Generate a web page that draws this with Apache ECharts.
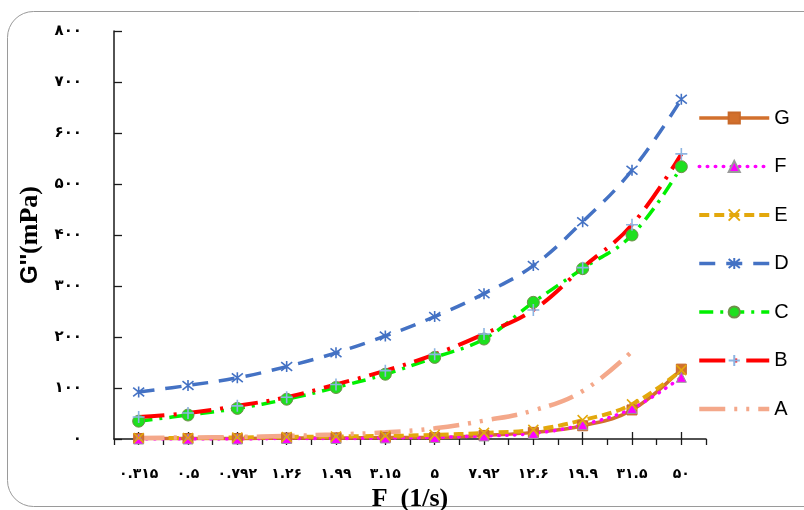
<!DOCTYPE html>
<html>
<head>
<meta charset="utf-8">
<script src="https://cdn.jsdelivr.net/npm/echarts@6/dist/echarts.min.js"></script>
<style>
  html, body { margin: 0; padding: 0; background: #ffffff; }
  #chart { width: 804px; height: 510px; }
</style>
</head>
<body>
<div id="chart"></div>
<script>
// Frequency categories (1/s), written with Persian digits
const categories = ['۰.۳۱۵', '۰.۵', '۰.۷۹۲', '۱.۲۶', '۱.۹۹', '۳.۱۵', '۵', '۷.۹۲', '۱۲.۶', '۱۹.۹', '۳۱.۵', '۵۰'];

// Loss modulus G'' (mPa) for each sample
const seriesG = [1, 1, 1, 2, 2, 3, 3, 7, 13, 26, 57, 137];
const seriesF = [0, 0, 0, 1, 1, 2, 3, 6, 11, 28, 60, 121];
const seriesE = [2, 2, 3, 4, 5, 6, 8, 12, 18, 37, 68, 135];
const seriesD = [92, 105, 120, 142, 169, 202, 240, 285, 340, 426, 527, 666];
const seriesC = [35, 47, 60, 78, 101, 127, 160, 196, 268, 334, 400, 534];
const seriesB = [43, 51, 65, 82, 107, 134, 166, 206, 253, 336, 420, 559];
const seriesA = [2, 3, 4, 6, 9, 13, 21, 36, 56, 94, 172, '-'];

const yMin = 0, yMax = 800, yStep = 100;

const persianDigits = '۰۱۲۳۴۵۶۷۸۹';
const toPersian = v => String(v).replace(/\d/g, d => persianDigits[d]);

const SYM_PLUS = 'path://M5,0L5,10M0,5L10,5';
const SYM_X = 'path://M0,0L10,10M10,0L0,10';
const SYM_STAR = 'path://M1,1L9,9M9,1L1,9M5,0L5,10';

const labelFont = { fontFamily: 'DejaVu Sans', fontWeight: 'bold', fontSize: 15, color: '#000' };

// Line styles shared by the series and their legend icons
const styles = {
  G: { color: '#D2702D', width: 3.5, type: 'solid' },
  F: { color: '#FF00FF', width: 3.5, type: [0.5, 7.5], cap: 'round' },
  E: { color: '#E3A80C', width: 4, type: [10, 5] },
  D: { color: '#4472C4', width: 3.5, type: [16, 11] },
  C: { color: '#00F000', width: 3.5, type: [14, 7, 3, 7] },
  B: { color: '#FF0000', width: 4, type: [26, 9, 3, 9] },
  A: { color: '#F4A88A', width: 4.5, type: [26, 9, 3, 9, 3, 9] }
};

function catAxis(extra) {
  return Object.assign({
    type: 'category',
    data: categories,
    boundaryGap: true,
    position: 'bottom',
    axisLine: { show: false },
    axisLabel: { show: false },
    splitLine: { show: false }
  }, extra);
}

const chart = echarts.init(document.getElementById('chart'), null, { renderer: 'canvas' });

chart.setOption({
  animation: false,
  backgroundColor: '#ffffff',
  graphic: [{
    type: 'rect',
    shape: { x: 7.5, y: 11.5, width: 830, height: 495, r: 26 },
    style: { fill: 'none', stroke: '#9a9a9a', lineWidth: 1 },
    z: -1, silent: true
  }],
  grid: { left: 114, right: 98, top: 31, bottom: 71, containLabel: false, outerBoundsMode: 'none' },
  xAxis: [
    catAxis({
      axisLine: { show: true, lineStyle: { color: '#1a1a1a', width: 1.5 } },
      axisTick: { show: true, alignWithLabel: false, length: 6, lineStyle: { color: '#1a1a1a', width: 1.3 } },
      axisLabel: Object.assign({ show: true, margin: 28, interval: 0 }, labelFont, { fontSize: 14 }),
      name: 'F  (1/s)',
      nameLocation: 'middle',
      nameGap: 45,
      nameTextStyle: { fontFamily: 'Liberation Serif', fontWeight: 'bold', fontSize: 26, color: '#000' }
    }),
    catAxis({ axisTick: { show: true, alignWithLabel: true, inside: true, length: 7, lineStyle: { color: '#1a1a1a', width: 1.3 } } }),
    catAxis({ axisTick: { show: true, alignWithLabel: true, length: 6, lineStyle: { color: '#1a1a1a', width: 1.3 } } })
  ],
  yAxis: {
    type: 'value',
    min: yMin, max: yMax, interval: yStep,
    axisLine: { show: true, lineStyle: { color: '#1a1a1a', width: 1.5 } },
    axisTick: { show: true, inside: true, length: 8, lineStyle: { color: '#1a1a1a', width: 1.3 } },
    splitLine: { show: false },
    axisLabel: Object.assign({ margin: 32, formatter: v => toPersian(v) }, labelFont),
    name: "{g|G''}{p|(mPa)}",
    nameLocation: 'middle',
    nameRotate: 90,
    nameGap: 67,
    nameTextStyle: {
      rich: {
        g: { fontFamily: 'Liberation Sans', fontWeight: 'bold', fontSize: 24, color: '#000' },
        p: { fontFamily: 'Liberation Serif', fontWeight: 'bold', fontSize: 26, color: '#000' }
      }
    }
  },
  legend: {
    orient: 'vertical',
    left: 692,
    top: 103,
    itemWidth: 70,
    itemHeight: 14,
    itemGap: 28.5,
    textStyle: { fontFamily: 'Liberation Sans', fontSize: 20, color: '#000', lineHeight: 20 },
    data: ['G', 'F', 'E', 'D', 'C', 'B', 'A'].map(k => {
      const item = { name: k, lineStyle: { width: styles[k].width, type: styles[k].type, color: styles[k].color } };
      if (k === 'A') item.itemStyle = { opacity: 0 };
      return item;
    })
  },
  series: [
    {
      name: 'G', type: 'line', data: seriesG, smooth: 0.4,
      symbol: 'rect', symbolSize: 10,
      lineStyle: styles.G,
      itemStyle: { color: '#D2702D', borderColor: '#C8692A', borderWidth: 1 }
    },
    {
      name: 'F', type: 'line', data: seriesF, smooth: 0.4,
      symbol: 'triangle', symbolSize: 10,
      lineStyle: styles.F,
      itemStyle: { color: '#FF00FF', borderColor: '#9a9a9a', borderWidth: 1 }
    },
    {
      name: 'E', type: 'line', data: seriesE, smooth: 0.4,
      symbol: SYM_X, symbolSize: 10,
      lineStyle: styles.E,
      itemStyle: { color: '#E3A80C', borderColor: '#E3A80C', borderWidth: 1.6 }
    },
    {
      name: 'D', type: 'line', data: seriesD, smooth: 0.4,
      symbol: SYM_STAR, symbolSize: 11,
      lineStyle: styles.D,
      itemStyle: { color: '#4472C4', borderColor: '#4472C4', borderWidth: 1.6 }
    },
    {
      name: 'C', type: 'line', data: seriesC, smooth: 0.4,
      symbol: 'circle', symbolSize: 12,
      lineStyle: styles.C,
      itemStyle: { color: '#1EE01E', borderColor: '#6F8F4A', borderWidth: 1 }
    },
    {
      name: 'B', type: 'line', data: seriesB, smooth: 0.4,
      symbol: SYM_PLUS, symbolSize: 12,
      lineStyle: styles.B,
      itemStyle: { color: '#8DB4E2', borderColor: '#8DB4E2', borderWidth: 1.6 }
    },
    {
      name: 'A', type: 'line', data: seriesA, smooth: 0.4,
      symbol: 'none', showSymbol: false,
      lineStyle: styles.A,
      itemStyle: { color: '#F4A88A' }
    }
  ]
});
</script>
</body>
</html>
